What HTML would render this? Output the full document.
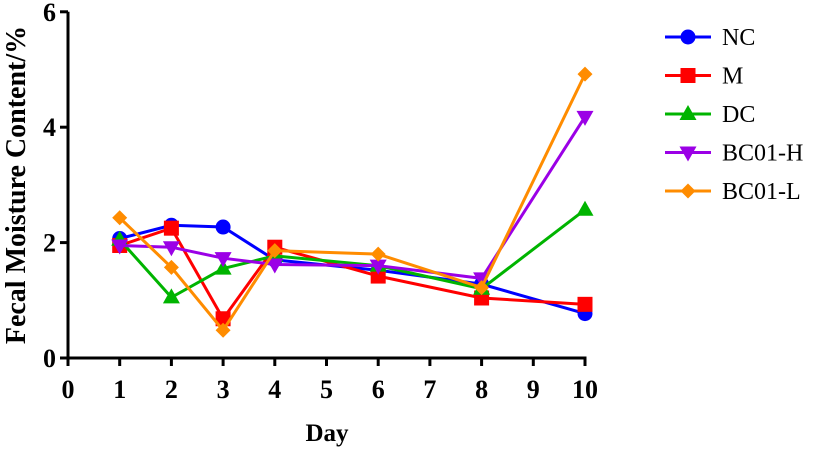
<!DOCTYPE html>
<html><head><meta charset="utf-8"><style>
body{margin:0;background:#fff}
svg text{font-family:"Liberation Serif",serif;font-weight:bold}
</style></head><body>
<svg id="chart" width="827" height="449" viewBox="0 0 827 449" xmlns="http://www.w3.org/2000/svg"></svg>
<script>
const days=[1,2,3,4,6,8,10];
const seriesNames=["NC","M","DC","BC01-H","BC01-L"];
const valuesNC=[2.07,2.3,2.27,1.7,1.52,1.28,0.77];
const valuesM=[1.95,2.25,0.68,1.92,1.42,1.04,0.93];
const valuesDC=[2.05,1.05,1.55,1.77,1.6,1.2,2.57];
const valuesBCH=[1.95,1.92,1.73,1.62,1.6,1.38,4.18];
const valuesBCL=[2.43,1.57,0.48,1.86,1.8,1.22,4.92];
const xTicks=[0,1,2,3,4,5,6,7,8,9,10];
const yTicks=[0,2,4,6];
const colors=["#0000ff","#ff0000","#00b400","#9b00e6","#ff8c00"];
const markers=["circle","square","up","down","diamond"];
const allVals=[valuesNC,valuesM,valuesDC,valuesBCH,valuesBCL];
const NS="http://www.w3.org/2000/svg";
const svg=document.getElementById('chart');
const X0=68,XS=51.7,Y0=358,YS=57.7;
const xs=v=>X0+v*XS, ys=v=>Y0-v*YS;
function mk(t,a,p){const e=document.createElementNS(NS,t);for(const k in a)e.setAttribute(k,a[k]);(p||svg).appendChild(e);return e;}
let ax=mk('line',{x1:X0,y1:ys(6),x2:X0,y2:Y0+1.5,stroke:'#000','stroke-width':3});


ax=mk('line',{x1:X0-1.5,y1:Y0,x2:xs(10)+1.5,y2:Y0,stroke:'#000','stroke-width':3});


yTicks.forEach(v=>{
 mk('line',{x1:X0-8,y1:ys(v),x2:X0,y2:ys(v),stroke:'#000','stroke-width':3});
 const t=mk('text',{x:X0-12,y:ys(v)+9,'text-anchor':'end','font-size':26});t.textContent=v;
 
 
});
xTicks.forEach(v=>{
 mk('line',{x1:xs(v),y1:Y0,x2:xs(v),y2:Y0+8,stroke:'#000','stroke-width':3});
 const t=mk('text',{x:xs(v),y:Y0+40,'text-anchor':'middle','font-size':26});t.textContent=v;
 
 
});
let tt=mk('text',{x:327,y:441,'text-anchor':'middle','font-size':25});tt.textContent='Day';


tt=mk('text',{x:0,y:0,'text-anchor':'middle','font-size':28,transform:'translate(25,185) rotate(-90)'});tt.textContent='Fecal Moisture Content/%';


function marker(type,x,y,c,g){
 if(type=='circle')return mk('circle',{cx:x,cy:y,r:7.5,fill:c},g);
 if(type=='square')return mk('rect',{x:x-7.5,y:y-7.5,width:15,height:15,fill:c},g);
 if(type=='up')return mk('polygon',{points:`${x},${y-9} ${x+8.5},${y+6} ${x-8.5},${y+6}`,fill:c},g);
 if(type=='down')return mk('polygon',{points:`${x},${y+9} ${x+8.5},${y-6} ${x-8.5},${y-6}`,fill:c},g);
 return mk('polygon',{points:`${x},${y-7.5} ${x+7.5},${y} ${x},${y+7.5} ${x-7.5},${y}`,fill:c},g);
}
allVals.forEach((vals,i)=>{
 const g=mk('g',{});
 
 
 const pts=vals.map((v,j)=>xs(days[j])+','+ys(v)).join(' ');
 mk('polyline',{points:pts,fill:'none',stroke:colors[i],'stroke-width':3},g);
 vals.forEach((v,j)=>{const m=marker(markers[i],xs(days[j]),ys(v),colors[i],g);
  
  });
 const ly=37+i*38.5;
 const lg=mk('g',{});
 
 
 mk('line',{x1:665,y1:ly,x2:711,y2:ly,stroke:colors[i],'stroke-width':3},lg);
 marker(markers[i],688,ly,colors[i],lg);
 const t=mk('text',{x:722,y:ly+8,'font-size':24,style:'font-weight:normal'},lg);t.textContent=seriesNames[i];
});
</script>
</body></html>
